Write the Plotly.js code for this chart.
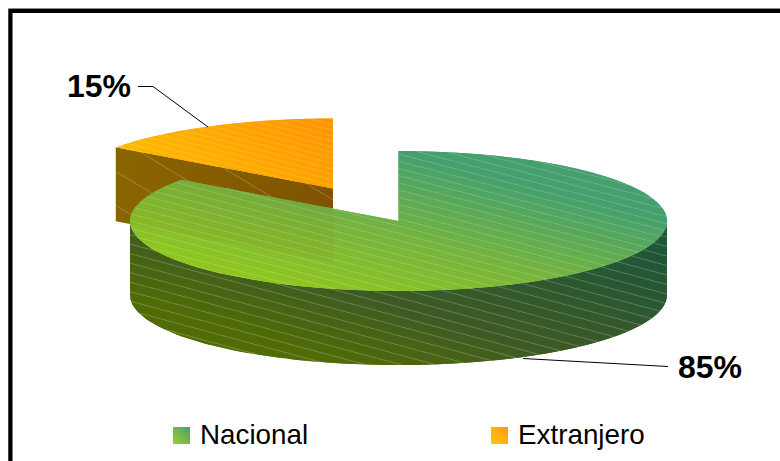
<!DOCTYPE html>
<html><head><meta charset="utf-8">
<script src="https://cdn.plot.ly/plotly-3.0.1.min.js"></script>
<style>html,body{margin:0;padding:0;background:#fff;overflow:hidden}</style>
</head><body><div id="chart" style="width:780px;height:461px"></div>
<script>
// --- data ---
const categories = ['Nacional', 'Extranjero'];
const shares = [85, 15];

// --- pie projection (pixels) ---
const rx = 268.5, ry = 70, depth = 74;
const centers = [[398.5, 221], [333, 188.5]];
const labelPos = [[709.5, 367], [98.5, 86]];
const legendSwatch = [[173, 427], [491, 427]];
const legendText = [200, 518];
const swatchSize = 17;

const total = shares.reduce((a, b) => a + b, 0);
const rgb = h => [1, 3, 5].map(i => parseInt(h.substr(i, 2), 16));
function ramp(stops, d) {
  if (d <= stops[0][0]) return stops[0][1];
  for (let i = 1; i < stops.length; i++) {
    if (d <= stops[i][0]) {
      const t = (d - stops[i - 1][0]) / (stops[i][0] - stops[i - 1][0]);
      const a = rgb(stops[i - 1][1]), b = rgb(stops[i][1]);
      return 'rgb(' + a.map((v, k) => Math.round(v + (b[k] - v) * t)).join(',') + ')';
    }
  }
  return stops[stops.length - 1][1];
}
function clipHalf(poly, nx, ny, c) { // keep nx*x+ny*y >= c
  const out = [];
  for (let i = 0; i < poly.length; i++) {
    const p = poly[i], q = poly[(i + 1) % poly.length];
    const dp = nx * p[0] + ny * p[1] - c, dq = nx * q[0] + ny * q[1] - c;
    if (dp >= 0) out.push(p);
    if ((dp >= 0) !== (dq >= 0)) {
      const t = dp / (dp - dq);
      out.push([p[0] + (q[0] - p[0]) * t, p[1] + (q[1] - p[1]) * t]);
    }
  }
  return out;
}
const traces = [];
function closed(poly) {
  return { x: poly.map(p => p[0]).concat([poly[0][0]]), y: poly.map(p => p[1]).concat([poly[0][1]]) };
}
function gradientFill(poly, dir, stops, n, name) {
  const ds = poly.map(p => dir[0] * p[0] + dir[1] * p[1]);
  const lo = Math.min(...ds), hi = Math.max(...ds), w = (hi - lo) / n;
  for (let i = 0; i < n; i++) {
    const a = lo + i * w, b = a + w;
    // each band also runs on under the next one, which closes the seams
    let s = clipHalf(poly, dir[0], dir[1], a);
    s = clipHalf(s, -dir[0], -dir[1], -(b + w));
    if (s.length < 3) continue;
    const col = ramp(stops, (a + b) / 2), c = closed(s);
    traces.push({ x: c.x, y: c.y, type: 'scatter', mode: 'lines', fill: 'toself', fillcolor: col, name: name,
      line: { color: col, width: 0 }, showlegend: false, hoverinfo: 'skip' });
  }
}
function hatch(poly, slope, gap, color) {
  const bs = poly.map(p => p[1] - slope * p[0]);
  const lo = Math.min(...bs), hi = Math.max(...bs);
  const xs = [], ys = [];
  for (let b = Math.ceil(lo / gap) * gap; b < hi; b += gap) {
    const cross = [];
    for (let i = 0; i < poly.length; i++) {
      const p = poly[i], q = poly[(i + 1) % poly.length];
      const dp = p[1] - slope * p[0] - b, dq = q[1] - slope * q[0] - b;
      if ((dp >= 0) !== (dq >= 0)) cross.push(p[0] + (q[0] - p[0]) * dp / (dp - dq));
    }
    cross.sort((u, v) => u - v);
    for (let i = 0; i + 1 < cross.length; i += 2) {
      xs.push(cross[i], cross[i + 1], null);
      ys.push(slope * cross[i] + b, slope * cross[i + 1] + b, null);
    }
  }
  traces.push({ x: xs, y: ys, type: 'scatter', mode: 'lines', line: { color: color, width: 0.8 },
    showlegend: false, hoverinfo: 'skip' });
}
function rim(c, a0, a1, dy) { // angles clockwise from 12 o'clock, degrees
  const pts = [], steps = Math.max(2, Math.round(Math.abs(a1 - a0) / 2));
  for (let i = 0; i <= steps; i++) {
    const a = (a0 + (a1 - a0) * i / steps) * Math.PI / 180;
    pts.push([c[0] + rx * Math.sin(a), c[1] - ry * Math.cos(a) + dy]);
  }
  return pts;
}

// slice sweeps from the values
const sweep = shares.map(v => 360 * v / total);
const nacEnd = sweep[0];
const cN = centers[0], cE = centers[1];

// Extranjero: top and cut face
const eTop = [cE].concat(rim(cE, nacEnd, 360, 0));
const eCorner = rim(cE, nacEnd, nacEnd, 0)[0];
const eFace = [eCorner, cE, [cE[0], cE[1] + depth], [eCorner[0], eCorner[1] + depth]];
gradientFill(eFace, [1, 0], [[110, '#8a6600'], [335, '#7f5200']], 14, categories[1]);
hatch(eFace, 0.6, 34, 'rgba(255,255,255,0.28)');
gradientFill(eTop, [0.6, -0.8], [[-51, '#ffbb00'], [106, '#ff9300']], 30, categories[1]);
hatch(eTop, 0.26, 5.5, 'rgba(255,255,255,0.2)');

// Nacional: wall and top
const nWall = rim(cN, 90, 270, 0).concat(rim(cN, 270, 90, depth));
gradientFill(nWall, [-0.3, 0.95], [[40, '#1e5639'], [170, '#3e5a24'], [245, '#516c06']], 50, categories[0]);
hatch(nWall, 0.27, 9.5, 'rgba(255,255,255,0.28)');
const nTop = [cN].concat(rim(cN, 0, nacEnd, 0));
gradientFill(nTop, [0.25, -0.97], [[-228, '#97cc18'], [-135, '#78b53c'], [-47, '#45a06e']], 60, categories[0]);
// faint see-through of the orange face below the translucent top
let through = nTop;
through = clipHalf(through, 1, 0, eCorner[0]);
through = clipHalf(through, -1, 0, -cE[0]);
const sl = (cE[1] - eCorner[1]) / (cE[0] - eCorner[0]);
through = clipHalf(through, -sl, 1, eCorner[1] - sl * eCorner[0]);
through = clipHalf(through, sl, -1, -(eCorner[1] + depth - sl * eCorner[0]));
if (through.length > 2) {
  const t = closed(through);
  traces.push({ x: t.x, y: t.y, type: 'scatter', mode: 'lines', fill: 'toself',
    fillcolor: 'rgba(140,90,0,0.07)', line: { width: 0 }, showlegend: false, hoverinfo: 'skip' });
}
hatch(nTop, 0.26, 7.2, 'rgba(255,255,255,0.22)');

// legend swatches
const legendStops = [
  [[0, '#97cc18'], [1, '#3f9a70']],
  [[0, '#ffc400'], [1, '#ff9300']]
];
categories.forEach((name, i) => {
  const [x, y] = legendSwatch[i], s = swatchSize;
  const sq = [[x, y], [x + s, y], [x + s, y + s], [x, y + s]];
  const d0 = 0.707 * x - 0.707 * (y + s), span = 0.707 * 2 * s;
  const stops = legendStops[i].map(st => [d0 + st[0] * span, st[1]]);
  gradientFill(sq, [0.707, -0.707], stops, 12, name);
  hatch(sq, -1, 3, 'rgba(255,255,255,0.2)');
});

const annotations = categories.map((n, i) => ({
  x: labelPos[i][0], y: labelPos[i][1], xref: 'x', yref: 'y', showarrow: false,
  text: Math.round(shares[i] / total * 100) + '%', xanchor: 'center', yanchor: 'middle',
  font: { family: 'Liberation Sans', size: 32, color: '#000', weight: 700 }
})).concat(categories.map((n, i) => ({
  x: legendText[i], y: legendSwatch[i][1] + swatchSize / 2 - 1, xref: 'x', yref: 'y', showarrow: false,
  text: n, xanchor: 'left', yanchor: 'middle', xshift: -2,
  font: { family: 'Liberation Sans', size: 27.8, color: '#000' }
})));

const L = { color: '#000', width: 1 };
const shapes = [
  { type: 'path', path: 'M 8.5 461 L 8.5 8.5 L 780 8.5', line: { color: '#888', width: 1 } },
  { type: 'path', path: 'M 10.5 461 L 10.5 11 L 780 11', line: { color: '#000', width: 4 } },
  { type: 'path', path: 'M 138 86.5 L 153 86.5 L 208 127', line: L },
  { type: 'path', path: 'M 668 366.5 L 523 358.5', line: L }
];

Plotly.newPlot('chart', traces, {
  width: 780, height: 461,
  margin: { l: 0, r: 0, t: 0, b: 0 },
  paper_bgcolor: '#fff', plot_bgcolor: '#fff',
  xaxis: { range: [0, 780], visible: false, fixedrange: true },
  yaxis: { range: [461, 0], visible: false, fixedrange: true },
  showlegend: false,
  annotations: annotations,
  shapes: shapes
}, { displayModeBar: false, staticPlot: true });
</script></body></html>
